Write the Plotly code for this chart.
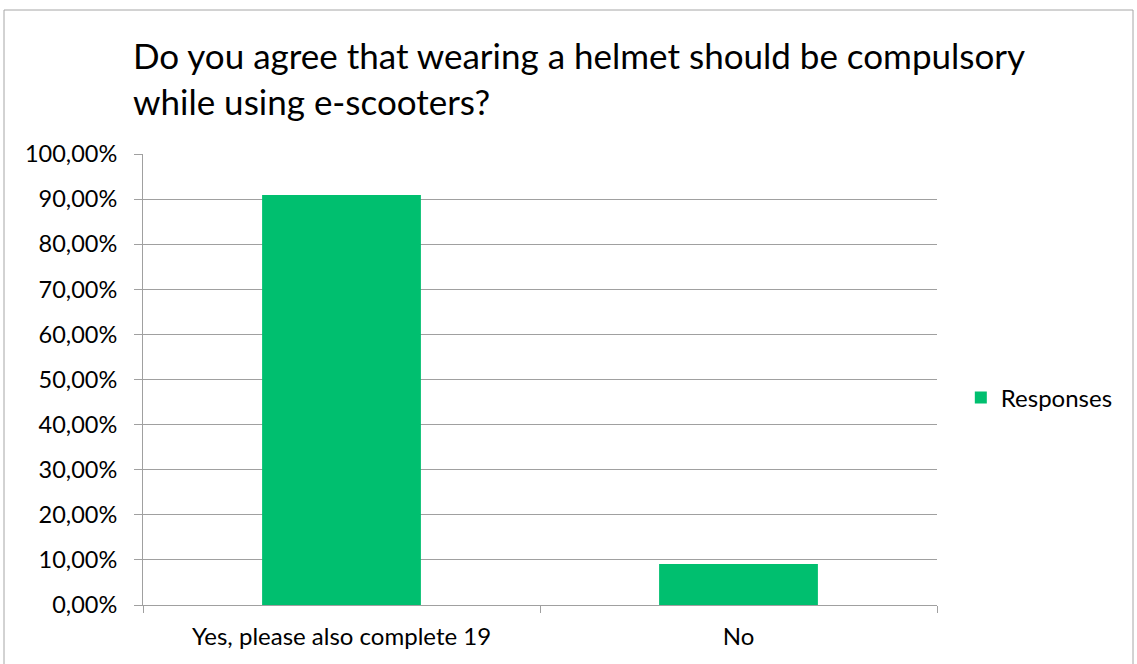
import plotly.graph_objects as go

categories = ["Yes, please also complete 19", "No"]
values = [0.9091, 0.0909]
series_name = "Responses"
tick_vals = [i / 10 for i in range(11)]

fig = go.Figure()
fig.add_trace(go.Bar(
    x=categories, y=values, name=series_name,
    marker=dict(color="#00BF6F", line=dict(width=0)),
    width=0.4, showlegend=True,
))

FONT = "Lato"
fig.update_layout(
    width=1137, height=664,
    margin=dict(l=143, r=200, t=154, b=59),
    paper_bgcolor="white", plot_bgcolor="white",
    separators=",.",
    font=dict(family=FONT, color="#000000", size=23),
    title=dict(
        text="Do you agree that wearing a helmet should be compulsory<br>while using e-scooters?",
        x=133 / 1137, xanchor="left", xref="container",
        y=1 - 69 / 664, yanchor="top", yref="container",
        font=dict(family=FONT, size=35, color="#000000"),
    ),
    xaxis=dict(
        type="category", tickson="boundaries", ticks="outside", ticklen=7,
        tickcolor="#a0a0a0", showline=True, linecolor="#a0a0a0", linewidth=1,
        showgrid=False, tickfont=dict(size=24), ticklabelstandoff=10,
    ),
    yaxis=dict(
        range=[0, 1], tickvals=tick_vals, tickformat=".2%", ticks="outside",
        ticklen=8, tickcolor="#a0a0a0", showline=True, linecolor="#a0a0a0",
        gridcolor="#a0a0a0", gridwidth=1, zeroline=False, tickfont=dict(size=23.5),
        ticklabelstandoff=12,
    ),
    legend=dict(
        x=1.030, y=0.459, xanchor="left", yanchor="middle",
        font=dict(size=24), bgcolor="rgba(0,0,0,0)",
    ),
    shapes=[dict(type="rect", xref="paper", yref="paper",
                 x0=-139 / 794, x1=(1133 - 143) / 794, y0=-70 / 451, y1=(605 - 10) / 451,
                 line=dict(color="#a6a6a6", width=1), fillcolor="rgba(0,0,0,0)", layer="below")],
)

fig.write_html("out.html", config={"displayModeBar": False},
               post_script="document.body.style.margin='0';document.body.style.overflow='hidden';")
